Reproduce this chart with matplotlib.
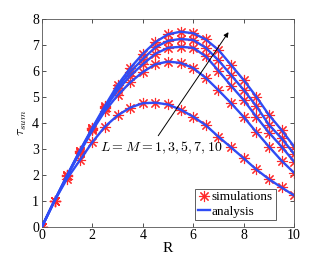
import matplotlib
matplotlib.use("Agg")
import matplotlib.pyplot as plt

plt.rcParams['font.family'] = 'Liberation Serif'
plt.rcParams['mathtext.fontset'] = 'cm'

R = [0, 0.5, 1, 1.5, 2, 2.5, 3, 3.5, 4, 4.5, 5, 5.5, 6, 6.5, 7, 7.5, 8, 8.5, 9, 9.5, 10]

tau_L1 = [0, 1.0, 1.85, 2.55, 3.25, 3.85, 4.28, 4.58, 4.75, 4.77, 4.7, 4.5, 4.23, 3.9, 3.46, 3.05, 2.63, 2.2, 1.83, 1.51, 1.2]
tau_L3 = [0, 1.0, 1.95, 2.85, 3.7, 4.45, 5.05, 5.55, 5.95, 6.25, 6.35, 6.3, 6.1, 5.72, 5.25, 4.75, 4.22, 3.64, 3.08, 2.54, 2.07]
tau_L5 = [0, 1.0, 1.95, 2.88, 3.75, 4.55, 5.25, 5.8, 6.25, 6.65, 6.88, 6.92, 6.88, 6.55, 6.0, 5.42, 4.87, 4.23, 3.62, 3.08, 2.5]
tau_L7 = [0, 1.0, 1.97, 2.9, 3.78, 4.6, 5.35, 5.95, 6.45, 6.9, 7.15, 7.22, 7.18, 6.88, 6.4, 5.83, 5.26, 4.64, 3.92, 3.4, 2.8]
tau_L10 = [0, 1.0, 1.98, 2.92, 3.8, 4.65, 5.45, 6.1, 6.65, 7.1, 7.4, 7.5, 7.44, 7.2, 6.8, 6.22, 5.64, 5.0, 4.3, 3.72, 3.08]

curves = [tau_L1, tau_L3, tau_L5, tau_L7, tau_L10]

fig = plt.figure(figsize=(3.25, 2.56), dpi=100)
ax = fig.add_axes([0.129, 0.1145, 0.776, 0.8125])

# simulations first, analysis lines on top
star = (8, 2, 0)
for i, c in enumerate(curves):
    ax.plot(R, c, linestyle='none', marker=star, color='#ff2a2a', markersize=8,
            markeredgewidth=0.8, label='simulations' if i == 0 else None, zorder=2)
for i, c in enumerate(curves):
    ax.plot(R, c, color='#2f4cf5', lw=1.7, label='analysis' if i == 0 else None, zorder=3)

ax.annotate('', xy=(7.46, 7.57), xytext=(4.55, 3.41),
            arrowprops=dict(arrowstyle='-|>', color='black', lw=0.7, mutation_scale=7))
ax.text(4.75, 3.05, r'$L=M=1,3,5,7,10$', fontsize=10, ha='center', va='center')

ax.set_xlim(0, 10)
ax.set_ylim(0, 8)
ax.set_xticks([0, 2, 4, 6, 8, 10])
ax.set_yticks(range(0, 9))
ax.tick_params(direction='in', top=True, right=True, labelsize=10, length=3, width=0.6,
               colors='#333333', labelcolor='black', pad=2)
for s in ax.spines.values():
    s.set_color('#555555')
    s.set_linewidth(0.6)

ax.set_xlabel('R', fontsize=11, labelpad=0)
ax.set_ylabel(r'$\tau_{sum}$', fontsize=10, labelpad=2)

leg = ax.legend(loc='lower right', bbox_to_anchor=(0.927, 0.031), borderaxespad=0,
                fontsize=9.5, fancybox=False, edgecolor='#444444', framealpha=1,
                handlelength=0.9, handletextpad=0.15, borderpad=0.2, labelspacing=0.15)
leg.get_frame().set_linewidth(0.6)

fig.savefig('out.png', dpi=100)
